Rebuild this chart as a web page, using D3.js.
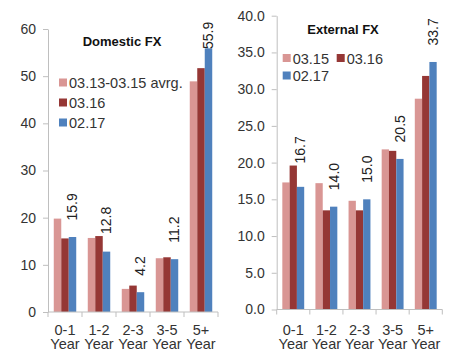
<!DOCTYPE html>
<html>
<head>
<meta charset="utf-8">
<script src="https://cdn.jsdelivr.net/npm/d3@7"></script>
<style>
  html, body { margin: 0; padding: 0; background: #fff; }
  svg { display: block; font-family: "Liberation Sans", Arial, sans-serif; }
</style>
</head>
<body>
<svg id="chart" width="453" height="352"></svg>
<script>
// Maturity buckets shared by both panels
const categories = ["0-1", "1-2", "2-3", "3-5", "5+"];
const categoryUnit = "Year";

// Domestic FX (left panel)
const domesticSeries = ["03.13-03.15 avrg.", "03.16", "02.17"];
const domesticAvg = [19.8, 15.7, 4.9, 11.4, 48.9];
const domestic16 = [15.6, 16.1, 5.6, 11.6, 51.7];
const domestic17 = [15.9, 12.8, 4.2, 11.2, 55.9];
const domesticTicks = [0, 10, 20, 30, 40, 50, 60];

// External FX (right panel)
const externalSeries = ["03.15", "03.16", "02.17"];
const external15 = [17.3, 17.2, 14.8, 21.8, 28.7];
const external16 = [19.6, 13.5, 13.5, 21.6, 31.8];
const external17 = [16.7, 14.0, 15.0, 20.5, 33.7];
const externalTicks = [0, 5, 10, 15, 20, 25, 30, 35, 40];

const colors = ["#D99694", "#953735", "#4F81BD"];
const axisColor = "#BFBFBF";
const textColor = "#333333";
const fontFamily = "'Liberation Sans', Arial, sans-serif";

const svg = d3.select("#chart");

function drawPanel(opt) {
  const g = svg.append("g");
  const x0 = d3.scaleBand().domain(categories).range([opt.left, opt.right]).padding(0);
  const x1 = d3.scaleBand().domain(d3.range(3)).range([0, x0.bandwidth()])
    .paddingInner(0).paddingOuter(0.77);
  const y = d3.scaleLinear().domain([0, opt.max]).range([opt.bottom, opt.top]);

  // bars
  opt.values.forEach((vals, si) => {
    g.append("g").selectAll("rect").data(vals).join("rect")
      .attr("x", (d, i) => x0(categories[i]) + x1(si))
      .attr("y", d => y(d))
      .attr("width", x1.bandwidth())
      .attr("height", d => y(0) - y(d))
      .attr("fill", colors[si]);
  });

  // y axis
  const yAxis = d3.axisLeft(y).tickValues(opt.ticks).tickSize(5).tickSizeOuter(0)
    .tickPadding(7).tickFormat(d3.format(opt.fmt));
  const ya = g.append("g").attr("transform", `translate(${opt.left},0)`).call(yAxis);
  ya.attr("font-family", null).attr("font-size", null);
  ya.select(".domain").attr("stroke", axisColor);
  ya.selectAll(".tick line").attr("stroke", axisColor);
  ya.selectAll(".tick text").attr("fill", textColor)
    .style("font-size", "14px").style("font-family", fontFamily);

  // x axis baseline and boundary ticks
  g.append("line").attr("x1", opt.left).attr("x2", opt.right)
    .attr("y1", y(0)).attr("y2", y(0)).attr("stroke", axisColor);
  const bounds = categories.map(c => x0(c)).concat([opt.right]);
  g.append("g").selectAll("line").data(bounds).join("line")
    .attr("x1", d => d).attr("x2", d => d)
    .attr("y1", y(0)).attr("y2", y(0) + 5).attr("stroke", axisColor);

  // category labels (two lines)
  const xl = g.append("g").selectAll("g").data(categories).join("g")
    .attr("transform", d => `translate(${x0(d) + x0.bandwidth() / 2},0)`);
  xl.append("text").attr("y", 334.5).attr("text-anchor", "middle")
    .attr("fill", textColor).style("font-size", "14.5px").text(d => d);
  xl.append("text").attr("y", 349).attr("text-anchor", "middle")
    .attr("fill", textColor).style("font-size", "14.5px").text(categoryUnit);

  // value labels above the last series, rotated
  const last = opt.values[2], prev = opt.values[1];
  const labelLen = 27;
  g.append("g").selectAll("text").data(last).join("text")
    .attr("transform", (d, i) => {
      const cx = x0(categories[i]) + x1(2) + x1.bandwidth() / 2;
      let b = Math.min(y(d) - 16.5, y(prev[i]) - 2);
      if (b - labelLen < opt.labelTop) b = opt.labelTop + labelLen;
      return `translate(${cx},${b}) rotate(-90)`;
    })
    .attr("dy", "0.35em")
    .attr("fill", "#222")
    .style("font-size", "14px")
    .text(d => d3.format(".1f")(d));

  // title
  g.append("text").attr("x", opt.titleX).attr("y", opt.titleY)
    .attr("text-anchor", "middle").attr("fill", "#111")
    .style("font-size", "13px").style("font-weight", "bold").text(opt.title);

  // legend
  const lg = g.append("g").selectAll("g").data(opt.legend).join("g")
    .attr("transform", d => `translate(${d.x},${d.y})`);
  lg.append("rect").attr("x", 0).attr("y", -4).attr("width", 8).attr("height", 8)
    .attr("fill", d => colors[d.i]);
  lg.append("text").attr("x", 10).attr("y", 5.5).attr("fill", textColor)
    .style("font-size", "14.5px").text(d => d.name);
}

drawPanel({
  left: 48, right: 218, top: 29, bottom: 312, max: 60,
  ticks: domesticTicks, fmt: "d", labelTop: 22,
  values: [domesticAvg, domestic16, domestic17],
  title: "Domestic FX", titleX: 122, titleY: 46,
  legend: [
    { i: 0, name: domesticSeries[0], x: 59, y: 82.5 },
    { i: 1, name: domesticSeries[1], x: 59, y: 102.5 },
    { i: 2, name: domesticSeries[2], x: 59, y: 122.5 }
  ]
});

drawPanel({
  left: 276.7, right: 442.3, top: 15.7, bottom: 309.5, max: 40,
  ticks: externalTicks, fmt: ".1f", labelTop: 9,
  values: [external15, external16, external17],
  title: "External FX", titleX: 343, titleY: 33.5,
  legend: [
    { i: 0, name: externalSeries[0], x: 282.7, y: 58 },
    { i: 1, name: externalSeries[1], x: 336.7, y: 58 },
    { i: 2, name: externalSeries[2], x: 282.7, y: 75.5 }
  ]
});
</script>
</body>
</html>
